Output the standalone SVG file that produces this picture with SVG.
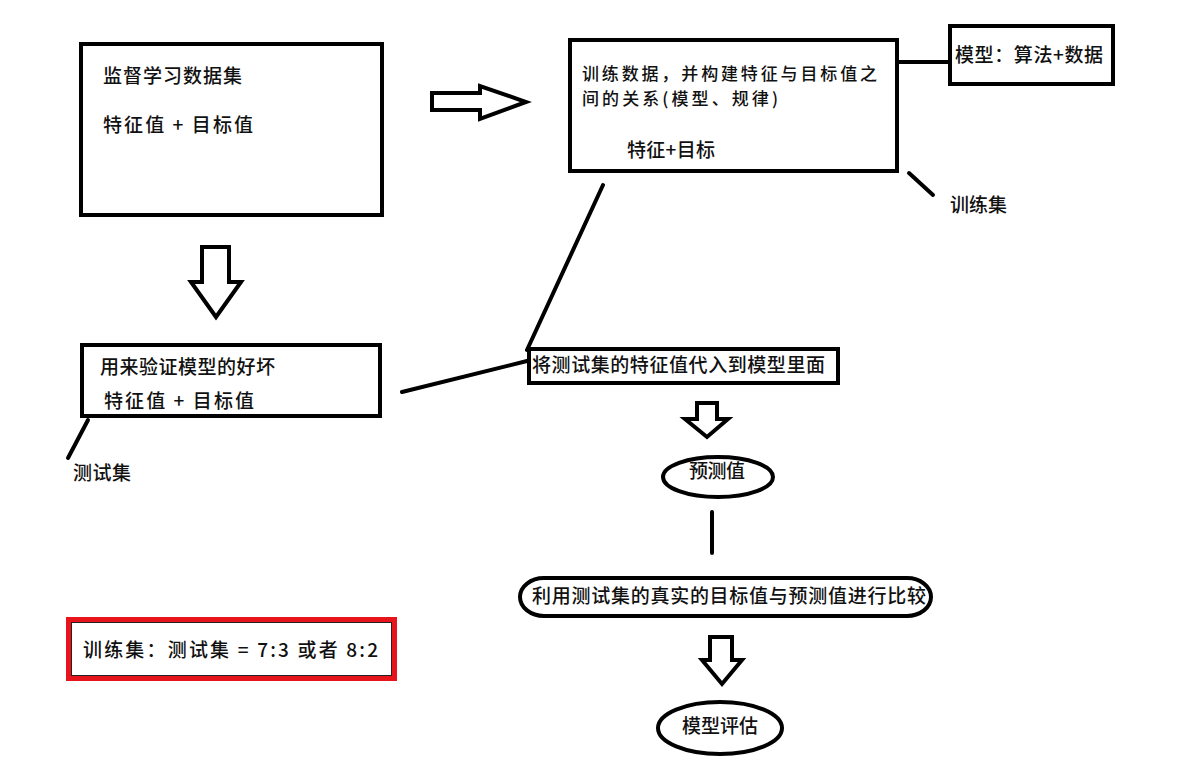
<svg xmlns="http://www.w3.org/2000/svg" width="1200" height="779" viewBox="0 0 1200 779">
<style>
.box{fill:#fff;stroke:#000;stroke-width:4}
.arr{fill:#fff;stroke:#000;stroke-width:4;stroke-linejoin:miter}
.ln{stroke:#000;stroke-width:4;stroke-linecap:round;fill:none}
text{font-family:"Noto Sans CJK SC","Noto Sans CJK JP",sans-serif;font-size:19px;font-weight:500;fill:#111}
text.sm{font-size:17px}
</style>
<rect width="1200" height="779" fill="#fff"/>
<g id="connectors">
<line class="ln" x1="899" y1="62" x2="948" y2="62"/>
<line class="ln" x1="909" y1="173" x2="933" y2="195"/>
<line class="ln" x1="603" y1="185" x2="527" y2="350"/>
<line class="ln" x1="402" y1="392" x2="527" y2="361"/>
<line class="ln" x1="88" y1="420" x2="68" y2="458"/>
<line class="ln" x1="712" y1="512" x2="712" y2="553"/>
<polygon class="arr" points="432,93 480,93 480,86 526,102 480,119 480,110 432,110"/>
<polygon class="arr" points="202,247 229,247 229,282 241,282 216,317 191,282 202,282"/>
<polygon class="arr" points="697,403 717,403 717,419 728,419 707,437 685,419 697,419"/>
<polygon class="arr" points="710,637 732,637 732,660 742,660 722,684 702,660 710,660"/>
</g>
<g id="dataset">
<rect class="box" x="81" y="44" width="301" height="171"/>
<text x="103" y="83" textLength="139" lengthAdjust="spacing">监督学习数据集</text>
<text x="103" y="132" textLength="150" lengthAdjust="spacing">特征值 + 目标值</text>
</g>
<g id="train">
<rect class="box" x="570" y="40" width="327" height="131"/>
<text class="sm" x="582" y="79.5" textLength="295" lengthAdjust="spacing">训练数据，并构建特征与目标值之</text>
<text class="sm" x="582" y="105" textLength="196" lengthAdjust="spacing">间的关系(模型、规律)</text>
<text x="627" y="157" textLength="88" lengthAdjust="spacing">特征+目标</text>
</g>
<g id="model">
<rect class="box" x="950" y="26" width="163" height="58"/>
<text x="955" y="62" textLength="148" lengthAdjust="spacing">模型：算法+数据</text>
</g>
<g id="trainLabel">
<text x="950" y="212" textLength="57" lengthAdjust="spacing">训练集</text>
</g>
<g id="test">
<rect class="box" x="82" y="345" width="298" height="71"/>
<text x="100" y="374" textLength="175" lengthAdjust="spacing">用来验证模型的好坏</text>
<text x="104" y="408" textLength="150" lengthAdjust="spacing">特征值 + 目标值</text>
</g>
<g id="testLabel">
<text x="73" y="480" textLength="58" lengthAdjust="spacing">测试集</text>
</g>
<g id="substitute">
<rect class="box" x="529" y="349" width="309" height="34"/>
<text x="532" y="372" textLength="293" lengthAdjust="spacing">将测试集的特征值代入到模型里面</text>
</g>
<g id="predict">
<ellipse class="box" cx="718" cy="477" rx="55" ry="20"/>
<text x="689" y="478" textLength="56" lengthAdjust="spacing">预测值</text>
</g>
<g id="compare">
<rect class="box" x="520" y="578" width="411" height="38" rx="24" ry="19"/>
<text x="532" y="603" textLength="394" lengthAdjust="spacing">利用测试集的真实的目标值与预测值进行比较</text>
</g>
<g id="evaluate">
<ellipse class="box" cx="720" cy="728" rx="62" ry="26"/>
<text x="682" y="733" textLength="76" lengthAdjust="spacing">模型评估</text>
</g>
<g id="ratio">
<rect x="68.5" y="619.5" width="326" height="59" fill="#fff" stroke="#e8141c" stroke-width="5"/>
<rect x="71.5" y="622.5" width="320" height="53" fill="none" stroke="#222" stroke-width="1"/>
<text x="83" y="657" textLength="295" lengthAdjust="spacing">训练集：测试集 = 7:3 或者 8:2</text>
</g>
</svg>
